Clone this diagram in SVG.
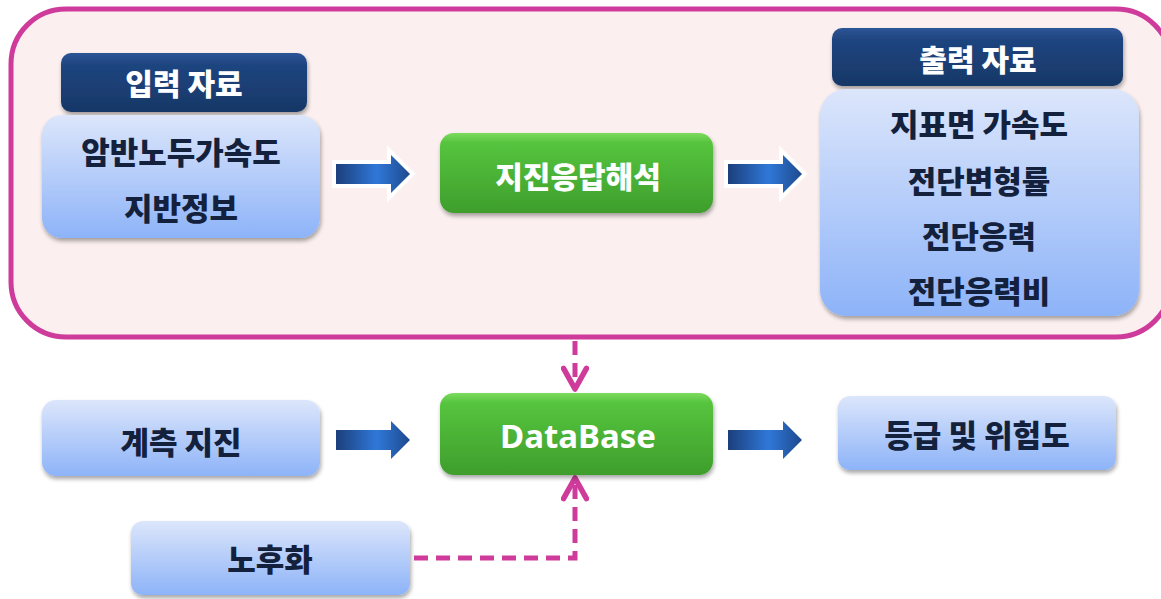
<svg xmlns="http://www.w3.org/2000/svg" width="1161" height="599" viewBox="0 0 1161 599">
<defs>
<linearGradient id="gBlue" x1="0" y1="0" x2="0" y2="1"><stop offset="0" stop-color="#DCE6FB"/><stop offset="1" stop-color="#8DB3F8"/></linearGradient>
<linearGradient id="gGreen" x1="0" y1="0" x2="0" y2="1"><stop offset="0" stop-color="#7CDB5E"/><stop offset="0.12" stop-color="#56C43E"/><stop offset="1" stop-color="#3E9E2C"/></linearGradient>
<linearGradient id="gNavy" x1="0" y1="0" x2="0" y2="1"><stop offset="0" stop-color="#2D5596"/><stop offset="0.2" stop-color="#1F4580"/><stop offset="1" stop-color="#173766"/></linearGradient>
<linearGradient id="gArrow" x1="0" y1="0" x2="1" y2="0"><stop offset="0" stop-color="#1C3F7C"/><stop offset="0.55" stop-color="#2F78D8"/><stop offset="1" stop-color="#1E4A8E"/></linearGradient>
<filter id="sh" x="-10%" y="-10%" width="120%" height="130%"><feGaussianBlur in="SourceAlpha" stdDeviation="2"/><feOffset dx="1" dy="3"/><feComponentTransfer><feFuncA type="linear" slope="0.35"/></feComponentTransfer><feMerge><feMergeNode/><feMergeNode in="SourceGraphic"/></feMerge></filter>
<marker id="mh" viewBox="0 0 12 12" refX="10.5" refY="6" markerWidth="5.5" markerHeight="5.5" orient="auto-start-reverse" markerUnits="strokeWidth"><path d="M1.5 1 L10.5 6 L1.5 11" fill="none" stroke="#CE3B9B" stroke-width="2.4" stroke-linecap="round" stroke-linejoin="round"/></marker>
<path id="arr" d="M0 -10 H55 V-19 L74 0 L55 19 V10 H0 Z"/>
</defs>
<style>
.t{font-family:"Noto Sans CJK KR","Noto Sans",sans-serif;font-weight:900;text-anchor:middle;dominant-baseline:central}
.dk{fill:#14213D;font-size:31px}
.wh{fill:#FFFFFF;font-size:30px}
.blue{fill:url(#gBlue);filter:url(#sh)}
.green{fill:url(#gGreen);filter:url(#sh)}
.navy{fill:url(#gNavy);filter:url(#sh)}
.dash{fill:none;stroke:#CE3B9B;stroke-width:5;stroke-dasharray:14 8}
</style>
<rect width="1161" height="599" fill="#FFFFFF"/>
<g id="panel"><rect x="11" y="9" width="1160" height="328" rx="55" fill="#FBEFEF" stroke="#CE3B9B" stroke-width="5"/></g>
<g id="connectors">
<g fill="url(#gArrow)">
<use href="#arr" transform="translate(336,174)" stroke="#FFFFFF" stroke-width="8" stroke-linejoin="miter"/>
<use href="#arr" transform="translate(336,174)"/>
<use href="#arr" transform="translate(728,174)" stroke="#FFFFFF" stroke-width="8"/>
<use href="#arr" transform="translate(728,174)"/>
<use href="#arr" transform="translate(336,440)"/>
<use href="#arr" transform="translate(728,440)"/>
</g>
<path class="dash" d="M575 341 V389" marker-end="url(#mh)"/>
<path class="dash" d="M414 558 H575 V478" marker-end="url(#mh)"/>
</g>
<g id="input-header"><rect class="navy" x="61" y="53" width="246" height="59" rx="10"/><text class="t wh" x="184" y="82">입력 자료</text></g>
<g id="input"><rect class="blue" x="42" y="115" width="278" height="123" rx="20"/><text class="t dk" x="181" y="150">암반노두가속도</text><text class="t dk" x="181" y="206">지반정보</text></g>
<g id="analysis"><rect class="green" x="440" y="133" width="273" height="80" rx="14"/><text class="t wh" x="578" y="175">지진응답해석</text></g>
<g id="output-header"><rect class="navy" x="832" y="28" width="291" height="58" rx="10"/><text class="t wh" x="978" y="58">출력 자료</text></g>
<g id="output"><rect class="blue" x="820" y="89" width="319" height="227" rx="26"/>
<text class="t dk" x="979" y="122">지표면 가속도</text><text class="t dk" x="979" y="179">전단변형률</text><text class="t dk" x="979" y="234">전단응력</text><text class="t dk" x="979" y="289">전단응력비</text></g>
<g id="measured"><rect class="blue" x="42" y="400" width="278" height="76" rx="14"/><text class="t dk" x="181" y="440">계측 지진</text></g>
<g id="database"><rect class="green" x="440" y="393" width="273" height="82" rx="14"/><text class="t wh" x="578" y="435" style="font-family:'Noto Sans',sans-serif;font-weight:700;font-size:33px">DataBase</text></g>
<g id="grade"><rect class="blue" x="838" y="396" width="278" height="74" rx="12"/><text class="t dk" x="977" y="433">등급 및 위험도</text></g>
<g id="aging"><rect class="blue" x="131" y="521" width="279" height="74" rx="12"/><text class="t dk" x="270" y="557">노후화</text></g>
</svg>
